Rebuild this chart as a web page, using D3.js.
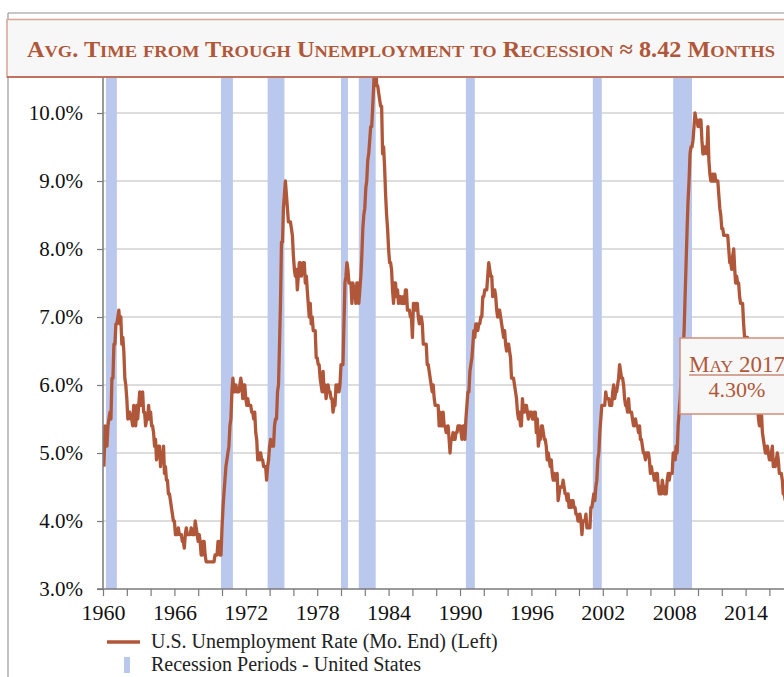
<!DOCTYPE html>
<html>
<head>
<meta charset="utf-8">
<script src="https://cdn.jsdelivr.net/npm/d3@7"></script>
<style>
  body { margin: 0; background: #fff; }
  svg { display: block; font-family: "Liberation Serif", "Times New Roman", serif; }
</style>
</head>
<body>
<svg id="chart"></svg>
<script>
// US unemployment rate, monthly, starting Feb 1960 (one row per year)
const firstMonth = "1960-02";
const unemploymentRate = [
  4.8, 5.4, 5.2, 5.1, 5.4, 5.5, 5.6, 5.5, 6.1, 6.1, 6.6,           // 1960 (Feb-Dec)
  6.6, 6.9, 6.9, 7.0, 7.1, 6.9, 7.0, 6.6, 6.7, 6.5, 6.1, 6.0,      // 1961
  5.8, 5.5, 5.6, 5.6, 5.5, 5.5, 5.4, 5.7, 5.6, 5.4, 5.7, 5.5,      // 1962
  5.7, 5.9, 5.7, 5.7, 5.9, 5.6, 5.6, 5.4, 5.5, 5.5, 5.7, 5.5,      // 1963
  5.6, 5.4, 5.4, 5.3, 5.1, 5.2, 4.9, 5.0, 5.1, 5.1, 4.8, 5.0,      // 1964
  4.9, 5.1, 4.7, 4.8, 4.6, 4.6, 4.4, 4.4, 4.3, 4.2, 4.1, 4.0,      // 1965
  4.0, 3.8, 3.8, 3.8, 3.9, 3.8, 3.8, 3.8, 3.7, 3.7, 3.6, 3.8,      // 1966
  3.9, 3.8, 3.8, 3.8, 3.8, 3.9, 3.8, 3.8, 3.8, 4.0, 3.9, 3.8,      // 1967
  3.7, 3.8, 3.7, 3.5, 3.5, 3.7, 3.7, 3.5, 3.4, 3.4, 3.4, 3.4,      // 1968
  3.4, 3.4, 3.4, 3.4, 3.4, 3.5, 3.5, 3.5, 3.7, 3.7, 3.5, 3.5,      // 1969
  3.9, 4.2, 4.4, 4.6, 4.8, 4.9, 5.0, 5.1, 5.4, 5.5, 5.9, 6.1,      // 1970
  5.9, 5.9, 6.0, 5.9, 5.9, 5.9, 6.0, 6.1, 6.0, 5.8, 6.0, 6.0,      // 1971
  5.8, 5.7, 5.8, 5.7, 5.7, 5.7, 5.6, 5.6, 5.5, 5.6, 5.3, 5.2,      // 1972
  4.9, 5.0, 4.9, 5.0, 4.9, 4.9, 4.8, 4.8, 4.8, 4.6, 4.8, 4.9,      // 1973
  5.1, 5.2, 5.1, 5.1, 5.1, 5.4, 5.5, 5.5, 5.9, 6.0, 6.6, 7.2,      // 1974
  8.1, 8.1, 8.6, 8.8, 9.0, 8.8, 8.6, 8.4, 8.4, 8.4, 8.3, 8.2,      // 1975
  7.9, 7.7, 7.6, 7.7, 7.4, 7.6, 7.8, 7.8, 7.6, 7.7, 7.8, 7.8,      // 1976
  7.5, 7.6, 7.4, 7.2, 7.0, 7.2, 6.9, 7.0, 6.8, 6.8, 6.8, 6.4,      // 1977
  6.4, 6.3, 6.3, 6.1, 6.0, 5.9, 6.2, 5.9, 6.0, 5.8, 5.9, 6.0,      // 1978
  5.9, 5.9, 5.8, 5.8, 5.6, 5.7, 5.7, 6.0, 5.9, 6.0, 5.9, 6.0,      // 1979
  6.3, 6.3, 6.3, 6.9, 7.5, 7.6, 7.8, 7.7, 7.5, 7.5, 7.5, 7.2,      // 1980
  7.5, 7.4, 7.4, 7.2, 7.5, 7.5, 7.2, 7.4, 7.6, 7.9, 8.3, 8.5,      // 1981
  8.6, 8.9, 9.0, 9.3, 9.4, 9.6, 9.8, 9.8, 10.1, 10.4, 10.8, 10.8,  // 1982
  10.4, 10.4, 10.3, 10.2, 10.1, 10.1, 9.4, 9.5, 9.2, 8.8, 8.5, 8.3,// 1983
  8.0, 7.8, 7.8, 7.7, 7.4, 7.2, 7.5, 7.5, 7.3, 7.4, 7.2, 7.3,      // 1984
  7.3, 7.2, 7.2, 7.3, 7.2, 7.4, 7.4, 7.1, 7.1, 7.1, 7.0, 7.0,      // 1985
  6.7, 7.2, 7.2, 7.1, 7.2, 7.2, 7.0, 6.9, 7.0, 7.0, 6.9, 6.6,      // 1986
  6.6, 6.6, 6.6, 6.3, 6.3, 6.2, 6.1, 6.0, 5.9, 6.0, 5.8, 5.7,      // 1987
  5.7, 5.7, 5.7, 5.4, 5.6, 5.4, 5.4, 5.6, 5.4, 5.4, 5.3, 5.3,      // 1988
  5.4, 5.2, 5.0, 5.2, 5.2, 5.3, 5.2, 5.2, 5.3, 5.3, 5.4, 5.4,      // 1989
  5.4, 5.3, 5.2, 5.4, 5.4, 5.2, 5.5, 5.7, 5.9, 5.9, 6.2, 6.3,      // 1990
  6.4, 6.6, 6.8, 6.7, 6.9, 6.9, 6.8, 6.9, 6.9, 7.0, 7.0, 7.3,      // 1991
  7.3, 7.4, 7.4, 7.4, 7.6, 7.8, 7.7, 7.6, 7.6, 7.3, 7.4, 7.4,      // 1992
  7.3, 7.1, 7.0, 7.1, 7.1, 7.0, 6.9, 6.8, 6.7, 6.8, 6.6, 6.5,      // 1993
  6.6, 6.6, 6.5, 6.4, 6.1, 6.1, 6.1, 6.0, 5.9, 5.8, 5.6, 5.5,      // 1994
  5.6, 5.4, 5.4, 5.8, 5.6, 5.6, 5.7, 5.7, 5.6, 5.5, 5.6, 5.6,      // 1995
  5.6, 5.5, 5.5, 5.6, 5.6, 5.3, 5.5, 5.1, 5.2, 5.2, 5.4, 5.4,      // 1996
  5.3, 5.2, 5.2, 5.1, 4.9, 5.0, 4.9, 4.8, 4.9, 4.7, 4.6, 4.7,      // 1997
  4.6, 4.6, 4.7, 4.3, 4.4, 4.5, 4.5, 4.5, 4.6, 4.5, 4.4, 4.4,      // 1998
  4.3, 4.4, 4.2, 4.3, 4.2, 4.3, 4.3, 4.2, 4.2, 4.1, 4.1, 4.0,      // 1999
  4.0, 4.1, 4.0, 3.8, 4.0, 4.0, 4.0, 4.1, 3.9, 3.9, 3.9, 3.9,      // 2000
  4.2, 4.2, 4.3, 4.4, 4.3, 4.5, 4.6, 4.9, 5.0, 5.3, 5.5, 5.7,      // 2001
  5.7, 5.7, 5.7, 5.9, 5.8, 5.8, 5.8, 5.7, 5.7, 5.7, 5.9, 6.0,      // 2002
  5.8, 5.9, 5.9, 6.0, 6.1, 6.3, 6.2, 6.1, 6.1, 6.0, 5.8, 5.7,      // 2003
  5.7, 5.6, 5.8, 5.6, 5.6, 5.6, 5.5, 5.4, 5.4, 5.5, 5.4, 5.4,      // 2004
  5.3, 5.4, 5.2, 5.2, 5.1, 5.0, 5.0, 4.9, 5.0, 5.0, 5.0, 4.9,      // 2005
  4.7, 4.8, 4.7, 4.7, 4.6, 4.6, 4.7, 4.7, 4.5, 4.4, 4.5, 4.4,      // 2006
  4.6, 4.5, 4.4, 4.5, 4.4, 4.6, 4.7, 4.6, 4.7, 4.7, 4.7, 5.0,      // 2007
  5.0, 4.9, 5.1, 5.0, 5.4, 5.6, 5.8, 6.1, 6.1, 6.5, 6.8, 7.3,      // 2008
  7.8, 8.3, 8.7, 9.0, 9.4, 9.5, 9.5, 9.6, 9.8, 10.0, 9.9, 9.9,     // 2009
  9.8, 9.8, 9.9, 9.9, 9.6, 9.4, 9.4, 9.5, 9.5, 9.4, 9.8, 9.3,      // 2010
  9.1, 9.0, 9.0, 9.1, 9.0, 9.1, 9.0, 9.0, 9.0, 8.8, 8.6, 8.5,      // 2011
  8.3, 8.3, 8.2, 8.2, 8.2, 8.2, 8.2, 8.0, 7.8, 7.8, 7.7, 7.9,      // 2012
  8.0, 7.7, 7.5, 7.6, 7.5, 7.5, 7.3, 7.2, 7.2, 7.2, 6.9, 6.7,      // 2013
  6.6, 6.7, 6.7, 6.2, 6.3, 6.1, 6.2, 6.1, 5.9, 5.7, 5.8, 5.6,      // 2014
  5.7, 5.5, 5.4, 5.4, 5.6, 5.3, 5.2, 5.1, 5.0, 5.0, 5.1, 5.0,      // 2015
  4.9, 4.9, 5.0, 5.1, 4.8, 4.9, 4.8, 4.9, 5.0, 4.9, 4.7, 4.7,      // 2016
  4.7, 4.6, 4.4, 4.4, 4.3                                          // 2017 (Jan-May)
];

// NBER recession periods (peak month, trough month)
const recessionStarts = ["1960-04", "1969-12", "1973-11", "1980-01", "1981-07", "1990-07", "2001-03", "2007-12"];
const recessionEnds   = ["1961-02", "1970-11", "1975-03", "1980-07", "1982-11", "1991-03", "2001-11", "2009-06"];

const yTicks = [3, 4, 5, 6, 7, 8, 9, 10];
const xLabelYears = [1960, 1966, 1972, 1978, 1984, 1990, 1996, 2002, 2008, 2014];

const titleText = "Avg. Time from Trough Unemployment to Recession \u2248 8.42 Months";
const calloutMonth = "May 2017";
const calloutValue = "4.30%";
const legendLine = "U.S. Unemployment Rate (Mo. End) (Left)";
const legendBand = "Recession Periods - United States";

// ---- setup
const W = 784, H = 677;
const rust = "#b0573a", band = "#bac8ed";
const parseMonth = d3.timeParse("%Y-%m");

const svg = d3.select("#chart").attr("width", W).attr("height", H);

const plotTop = 77, plotBottom = 589, plotLeft = 103;

const x = d3.scaleTime()
  .domain([new Date(1960, 0, 1), new Date(2018, 0, 1)])
  .range([plotLeft, plotLeft + 58 * 11.9]);

const y = d3.scaleLinear()
  .domain([3, 10])
  .range([plotBottom, 113]);

const start = parseMonth(firstMonth);
const series = unemploymentRate.map((v, i) => ({
  date: d3.timeMonth.offset(start, i),
  value: v
}));

// outer frame
svg.append("line").attr("x1", 8).attr("x2", W).attr("y1", 13).attr("y2", 13)
  .attr("stroke", "#b5b5b5").attr("stroke-width", 1.5);
svg.append("line").attr("x1", 8).attr("x2", 8).attr("y1", 13).attr("y2", H)
  .attr("stroke", "#9a9a9a").attr("stroke-width", 1.2);

svg.append("clipPath").attr("id", "plotclip")
  .append("rect").attr("x", plotLeft).attr("y", plotTop)
  .attr("width", W - plotLeft).attr("height", plotBottom - plotTop);

const plot = svg.append("g").attr("clip-path", "url(#plotclip)");

// gridlines
plot.selectAll("line.grid")
  .data(yTicks.filter(t => t > 3))
  .join("line")
  .attr("class", "grid")
  .attr("x1", plotLeft).attr("x2", W)
  .attr("y1", d => y(d)).attr("y2", d => y(d))
  .attr("stroke", "#d2d2d2").attr("stroke-width", 1.5);

// recession bands (over the gridlines)
plot.selectAll("rect.rec")
  .data(recessionStarts.map((s, i) => [parseMonth(s), d3.timeMonth.offset(parseMonth(recessionEnds[i]), 1)]))
  .join("rect")
  .attr("class", "rec")
  .attr("x", d => x(d[0]))
  .attr("width", d => x(d[1]) - x(d[0]))
  .attr("y", plotTop)
  .attr("height", plotBottom - plotTop)
  .attr("fill", band);

// unemployment line
plot.append("path")
  .datum(series)
  .attr("fill", "none")
  .attr("stroke", rust)
  .attr("stroke-width", 3.3)
  .attr("stroke-linejoin", "round")
  .attr("d", d3.line().x(d => x(d.date)).y(d => y(d.value)));

// y axis
const yAxis = svg.append("g")
  .attr("transform", `translate(${plotLeft},0)`)
  .call(d3.axisLeft(y).tickValues(yTicks).tickSize(6).tickPadding(14)
    .tickFormat(d => d.toFixed(1) + "%"));
yAxis.select(".domain").attr("stroke", "#7a7a7a").attr("stroke-width", 1.5)
  .attr("d", `M-6,${plotBottom}H0V${plotTop}`);
yAxis.selectAll(".tick line").attr("stroke", "#7a7a7a").attr("stroke-width", 1.2);
yAxis.selectAll(".tick text").attr("font-size", 21).attr("fill", "#111")
  .attr("font-family", "Liberation Serif, serif");

// x axis
const tickYears = d3.range(1960, 2018, 2).map(yr => new Date(yr, 0, 1));
const xAxis = svg.append("g")
  .attr("transform", `translate(0,${plotBottom})`)
  .call(d3.axisBottom(x).tickValues(tickYears).tickSize(7).tickPadding(8)
    .tickFormat(d => xLabelYears.includes(d.getFullYear()) ? d.getFullYear() : ""));
xAxis.select(".domain").attr("stroke", "#7a7a7a").attr("stroke-width", 1.5)
  .attr("d", `M${plotLeft},0H${W}`);
xAxis.selectAll(".tick line").attr("stroke", "#7a7a7a").attr("stroke-width", 1.2);
xAxis.selectAll(".tick text").attr("font-size", 22).attr("fill", "#111")
  .attr("font-family", "Liberation Serif, serif");

// small caps helper: lowercase letters become smaller capitals
function smallCaps(sel, str, big, small) {
  const runs = [];
  for (const ch of str) {
    const isLower = ch !== ch.toUpperCase();
    const size = isLower ? small : big;
    if (runs.length && runs[runs.length - 1].size === size) runs[runs.length - 1].t += ch.toUpperCase();
    else runs.push({ t: ch.toUpperCase(), size });
  }
  sel.selectAll("tspan").data(runs).join("tspan")
    .attr("font-size", d => d.size)
    .text(d => d.t);
}

// title box
svg.append("rect").attr("x", 7).attr("y", 19.5).attr("width", W + 20).attr("height", 57.5)
  .attr("fill", "#f7f7f7").attr("stroke", "#d9a596").attr("stroke-width", 1.5);
svg.append("line").attr("x1", 7).attr("x2", W).attr("y1", 77).attr("y2", 77)
  .attr("stroke", "#b35c44").attr("stroke-width", 1.5);
const title = svg.append("text")
  .attr("x", 27).attr("y", 57)
  .attr("fill", rust).attr("font-weight", "bold")
  .attr("textLength", 748).attr("lengthAdjust", "spacingAndGlyphs");
smallCaps(title, titleText, 23, 17.5);

// callout box
svg.append("rect").attr("x", 680).attr("y", 338).attr("width", 130).attr("height", 76)
  .attr("fill", "#f7f7f7").attr("stroke", "#cf8f7d").attr("stroke-width", 1.5);
const cm = svg.append("text").attr("x", 737).attr("y", 372)
  .attr("text-anchor", "middle").attr("fill", rust);
smallCaps(cm, calloutMonth, 23, 17.5);
const bb = cm.node().getBBox();
svg.append("line").attr("x1", bb.x).attr("x2", bb.x + bb.width)
  .attr("y1", 375).attr("y2", 375).attr("stroke", rust).attr("stroke-width", 1.2);
svg.append("text").attr("x", 737).attr("y", 397)
  .attr("text-anchor", "middle").attr("fill", rust).attr("font-size", 22)
  .text(calloutValue);

// legend
svg.append("line").attr("x1", 107).attr("x2", 140).attr("y1", 642).attr("y2", 642)
  .attr("stroke", rust).attr("stroke-width", 3.5);
svg.append("text").attr("x", 151).attr("y", 648).attr("font-size", 20).attr("fill", "#222")
  .text(legendLine);
svg.append("rect").attr("x", 124).attr("y", 657).attr("width", 6).attr("height", 16)
  .attr("fill", band);
svg.append("text").attr("x", 151).attr("y", 671).attr("font-size", 20).attr("fill", "#222")
  .text(legendBand);
</script>
</body>
</html>
